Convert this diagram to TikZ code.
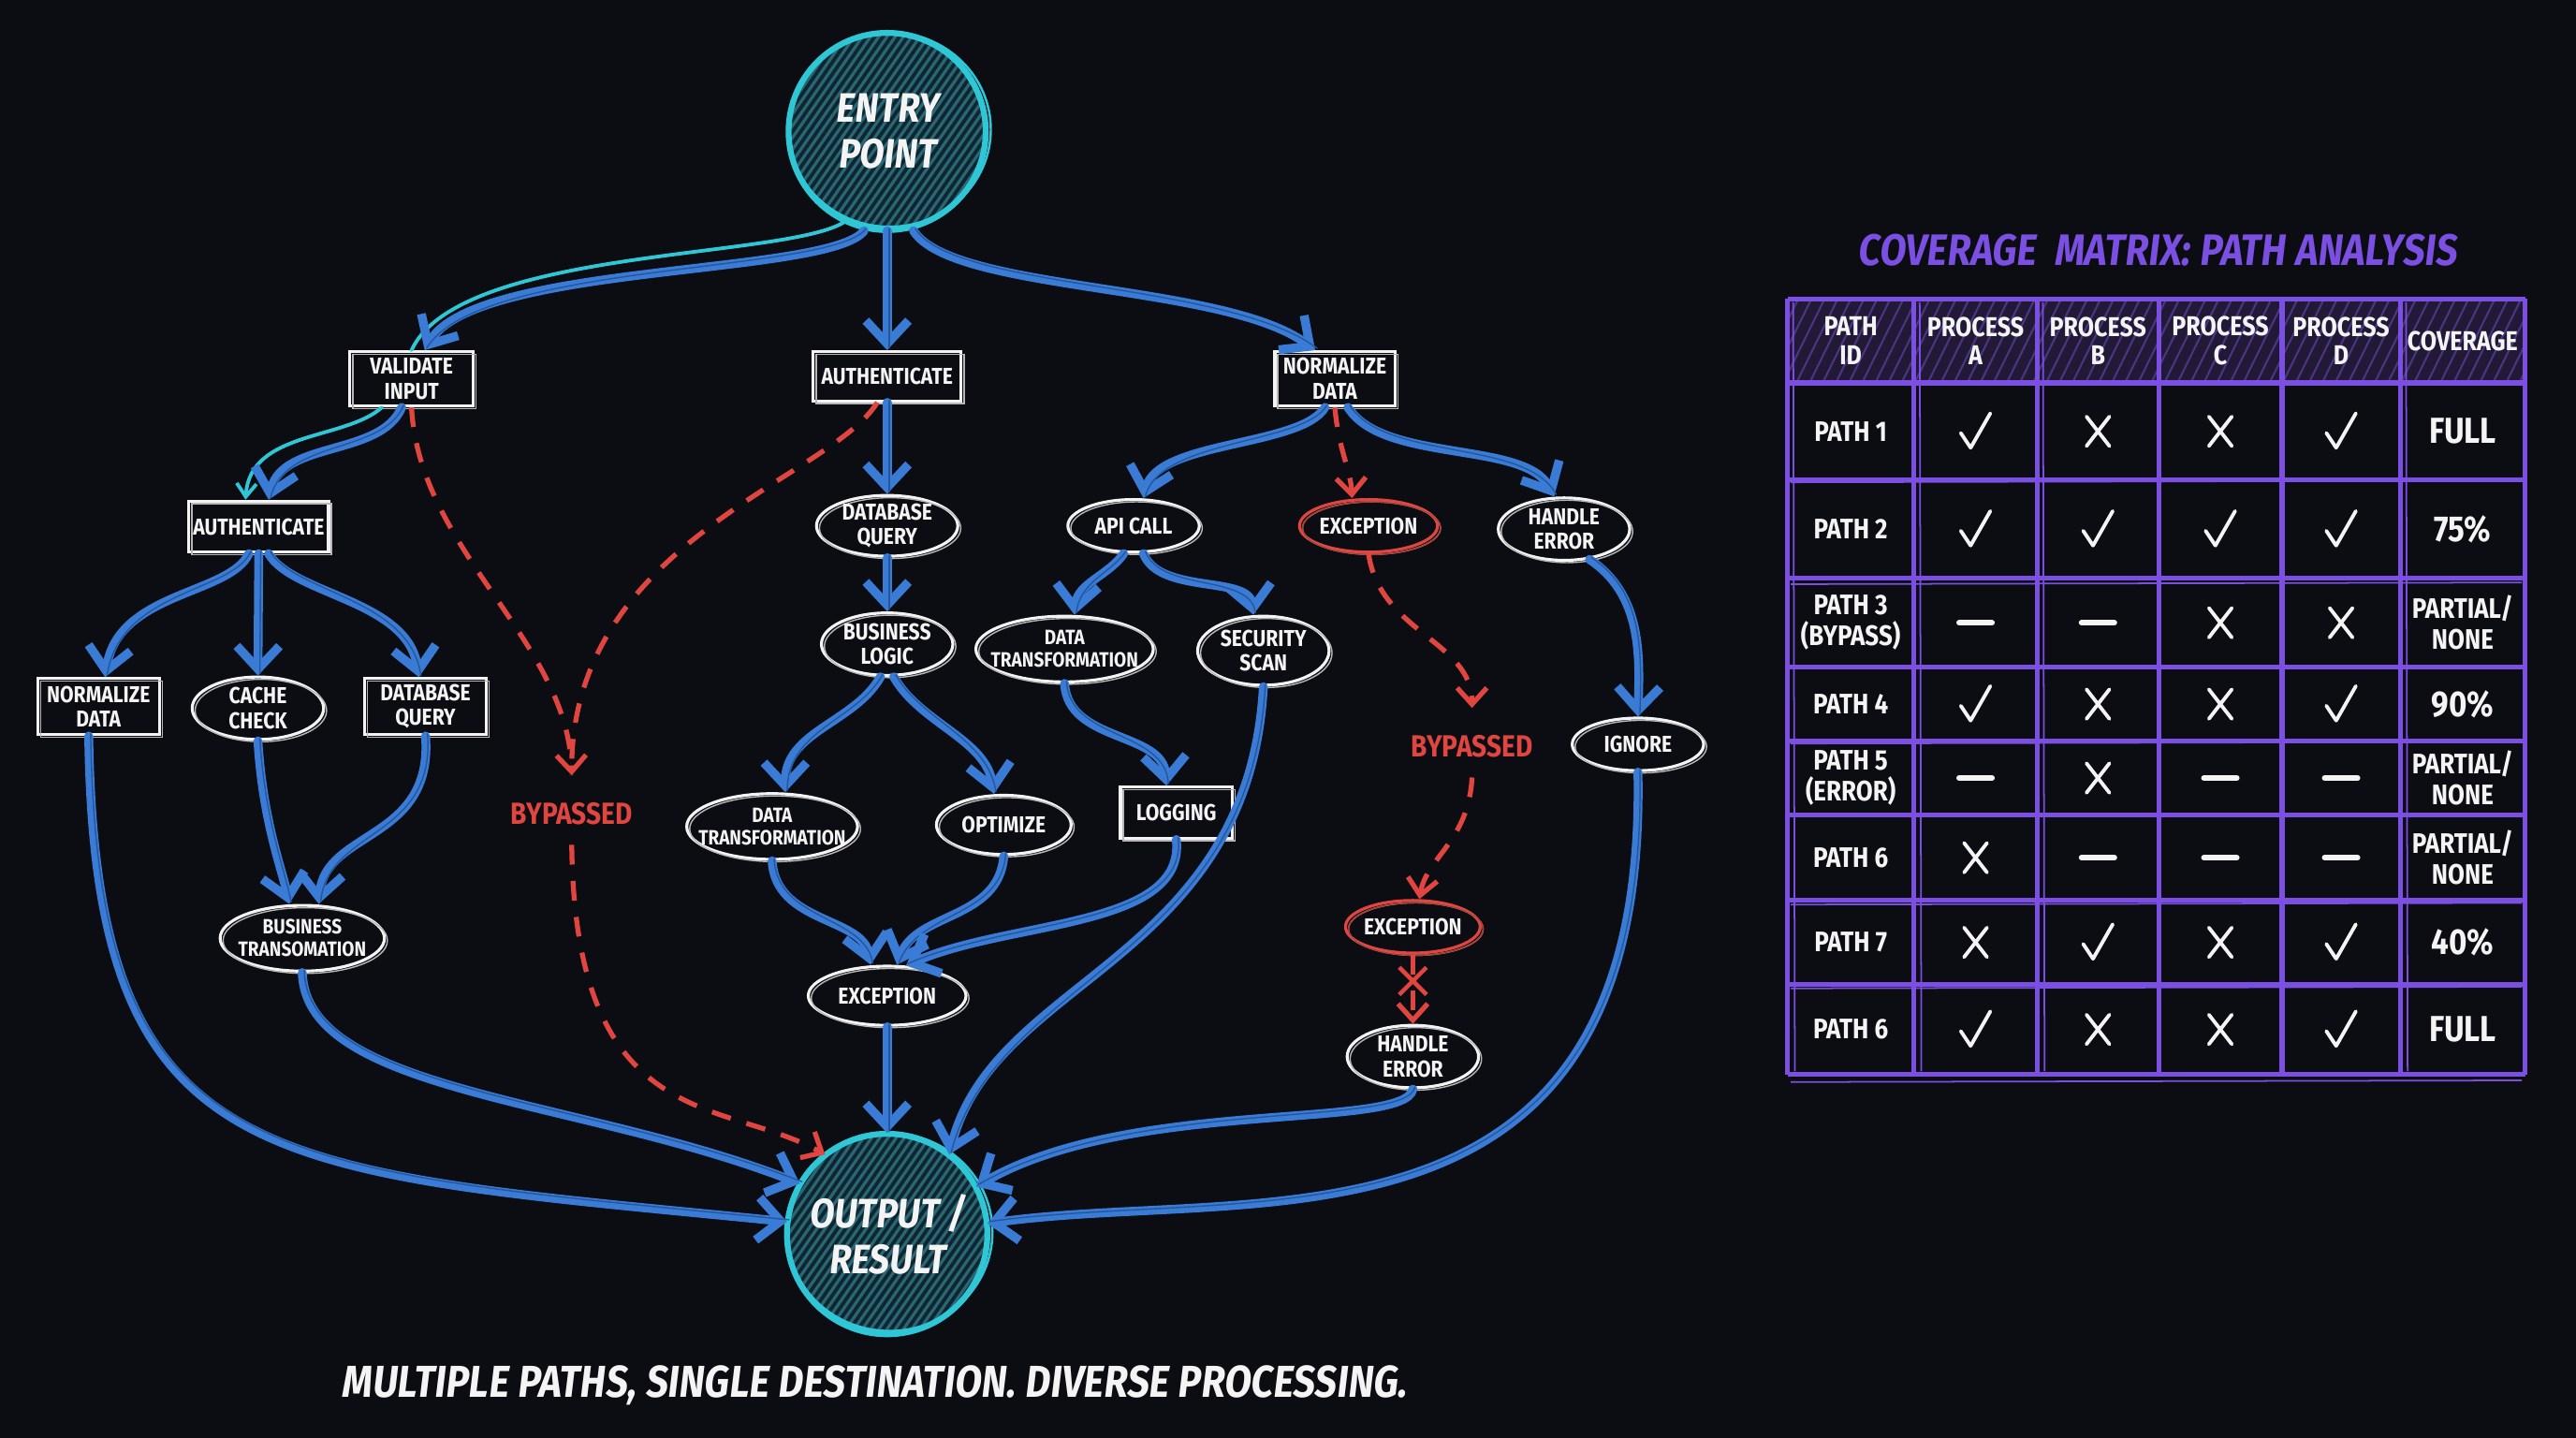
\documentclass[tikz,border=0pt]{standalone}
\usepackage{fontspec}
\newfontfamily\hand[FakeStretch=0.86]{Fira Sans}
\newfontfamily\handi[FakeStretch=0.86,FakeSlant=0.12]{Fira Sans}
\usetikzlibrary{arrows.meta,shapes.geometric,shapes.misc,calc}

\definecolor{bg}{HTML}{0B0D13}
\definecolor{flow}{HTML}{3A7BD5}
\definecolor{flowdk}{HTML}{24569C}
\definecolor{cyanc}{HTML}{2FC6D6}
\definecolor{redc}{HTML}{E0463F}
\definecolor{purp}{HTML}{7A4FE2}
\definecolor{purpdk}{HTML}{211936}
\definecolor{purpst}{HTML}{4A3580}
\definecolor{tealfill}{HTML}{0E2630}
\definecolor{tealline}{HTML}{2A6674}
\definecolor{chalk}{HTML}{F4F4F4}

\newcommand\markc[1]{\draw[tickline] ($(#1)+(-9,1)$) -- ($(#1)+(-3,10)$) -- ($(#1)+(9,-11)$);}
\newcommand\markx[1]{\draw[tickline] ($(#1)+(-7,-9)$) -- ($(#1)+(7,9)$) ($(#1)+(-7,9)$) -- ($(#1)+(7,-9)$);}
\newcommand\markd[1]{\draw[tickline, line width=1.7pt] ($(#1)+(-10,0)$) -- ($(#1)+(10,0)$);}

\tikzset{
  flowarrow/.style={draw=flow, line width=2.7pt, line cap=round,
    -{Straight Barb[length=7pt,width=13pt]},
    postaction={draw=flowdk, line width=0.4pt, arrows=-, transform canvas={shift={(0.6pt,0.6pt)}}}},
  cyanline/.style={draw=cyanc, line width=1.1pt, line cap=round},
  redflow/.style={draw=redc, line width=1.5pt, dash pattern=on 6pt off 5pt,
    -{Straight Barb[length=5pt,width=9pt]}},
  redplain/.style={draw=redc, line width=1.5pt, dash pattern=on 6pt off 5pt},
  nodefont/.style={font=\hand\bfseries\fontsize{7}{7.6}\selectfont},
  boxnode/.style={rectangle, draw=chalk, line width=0.9pt, fill=bg, inner sep=0pt,
    text=chalk, nodefont, align=center,
    postaction={draw=chalk!75!black, line width=0.4pt, transform canvas={shift={(0.9pt,-0.8pt)}}}},
  ellnode/.style={ellipse, draw=chalk, line width=0.9pt, fill=bg, inner sep=0pt,
    postaction={draw=chalk!75!black, line width=0.4pt, transform canvas={shift={(0.9pt,-0.7pt)}}}},
  ellred/.style={ellnode, draw=redc, postaction={draw=redc!80!black, line width=0.4pt, transform canvas={shift={(0.9pt,-0.7pt)}}}},
  lbl/.style={text=chalk, nodefont, align=center, inner sep=0pt},
  lblsmall/.style={lbl, font=\hand\bfseries\fontsize{6.3}{6.9}\selectfont},
  bigtext/.style={text=chalk, font=\handi\bfseries\fontsize{12.5}{14}\selectfont, align=center, inner sep=0pt},
  redlabel/.style={text=redc, font=\hand\bfseries\fontsize{9.3}{10}\selectfont, inner sep=0pt},
  tickline/.style={draw=chalk, line width=1.1pt, line cap=round, line join=round},
  gridline/.style={draw=purp, line width=1.5pt},
  gridthin/.style={draw=purp, line width=0.5pt},
  celltext/.style={text=chalk, font=\hand\bfseries\fontsize{8.6}{9.4}\selectfont, align=center, inner sep=0pt},
  covbig/.style={text=chalk, font=\hand\bfseries\fontsize{11}{12}\selectfont, align=center, inner sep=0pt},
  headtext/.style={text=chalk, font=\hand\bfseries\fontsize{8.3}{8.8}\selectfont, align=center, inner sep=0pt},
}

\begin{document}
\begin{tikzpicture}[x=0.5pt,y=-0.5pt]
\fill[bg] (0,0) rectangle (1568,875);
\useasboundingbox (0,0) rectangle (1568,875);

% ---------- big circles ----------
\node[circle, inner sep=0pt, minimum size=60pt] (entry) at (540,80) {};
\node[circle, inner sep=0pt, minimum size=61pt] (out) at (540,751) {};
\foreach \c/\r in {entry/30pt, out/30.5pt}{
  \fill[tealfill] (\c.center) circle [radius=\r];
  \begin{scope}
    \clip (\c.center) circle [radius=\r];
    \foreach \k in {-110,-105,...,110}
      \draw[tealline, line width=0.9pt] ($(\c.center)+(\k-45,65)$) -- ($(\c.center)+(\k+45,-65)$);
  \end{scope}
  \draw[cyanc, line width=1.8pt] (\c.center) circle [radius=\r];
  \draw[cyanc, line width=0.7pt] ($(\c.center)+(1.5,-1.2)$) circle [x radius=\r+0.8pt, y radius=\r-0.4pt];
}
\node[bigtext] (entry-t) at (entry) {ENTRY\\POINT};
\node[bigtext] (out-t) at (out) {OUTPUT /\\RESULT};

% ---------- rectangle nodes ----------
\node[boxnode, minimum width=37.5pt, minimum height=16.5pt] (vi) at (250.5,230.5) {VALIDATE\\INPUT};
\node[boxnode, minimum width=45pt, minimum height=15pt] (au1) at (540,229) {AUTHENTICATE};
\node[boxnode, minimum width=36.5pt, minimum height=16.5pt] (nd1) at (812.5,230.5) {NORMALIZE\\DATA};
\node[boxnode, minimum width=42.5pt, minimum height=15.5pt] (au2) at (157.5,320.5) {AUTHENTICATE};
\node[boxnode, minimum width=37pt, minimum height=17pt] (nd2) at (60,430) {NORMALIZE\\DATA};
\node[boxnode, minimum width=37pt, minimum height=17pt] (dq2) at (259,430) {DATABASE\\QUERY};
\node[boxnode, minimum width=34pt, minimum height=15.5pt] (lg) at (716,494.5) {LOGGING};

% ---------- ellipse nodes ----------
\node[ellnode, minimum width=43pt, minimum height=18.5pt] (dq1) at (540,320) {};
\node[lbl] (dq1-t) at (dq1) {DATABASE\\QUERY};
\node[ellnode, minimum width=40pt, minimum height=16pt] (api) at (690,320) {};
\node[lbl] (api-t) at (api) {API CALL};
\node[ellred, minimum width=42pt, minimum height=16pt] (ex1) at (833,320) {};
\node[lbl] (ex1-t) at (ex1) {EXCEPTION};
\node[ellnode, minimum width=40pt, minimum height=19pt] (he1) at (952,322) {};
\node[lbl] (he1-t) at (he1) {HANDLE\\ERROR};
\node[ellnode, minimum width=40pt, minimum height=19pt] (cc) at (157,431) {};
\node[lbl] (cc-t) at (cc) {CACHE\\CHECK};
\node[ellnode, minimum width=40pt, minimum height=19pt] (bl) at (540,392) {};
\node[lbl] (bl-t) at (bl) {BUSINESS\\LOGIC};
\node[ellnode, minimum width=54pt, minimum height=20pt] (dt1) at (648,395) {};
\node[lblsmall] (dt1-t) at (dt1) {DATA\\TRANSFORMATION};
\node[ellnode, minimum width=40pt, minimum height=21pt] (ss) at (769,396) {};
\node[lbl] (ss-t) at (ss) {SECURITY\\SCAN};
\node[ellnode, minimum width=40pt, minimum height=16pt] (ig) at (997,453) {};
\node[lbl] (ig-t) at (ig) {IGNORE};
\node[ellnode, minimum width=52pt, minimum height=20pt] (dt2) at (470,503) {};
\node[lblsmall] (dt2-t) at (dt2) {DATA\\TRANSFORMATION};
\node[ellnode, minimum width=41pt, minimum height=18pt] (op) at (611,502) {};
\node[lbl] (op-t) at (op) {OPTIMIZE};
\node[ellnode, minimum width=50pt, minimum height=20pt] (bt) at (184,571) {};
\node[lblsmall] (bt-t) at (bt) {BUSINESS\\TRANSOMATION};
\node[ellnode, minimum width=48pt, minimum height=18pt] (ex2) at (540,606) {};
\node[lbl] (ex2-t) at (ex2) {EXCEPTION};
\node[ellred, minimum width=41pt, minimum height=16pt] (ex3) at (860,564) {};
\node[lbl] (ex3-t) at (ex3) {EXCEPTION};
\node[ellnode, minimum width=40pt, minimum height=19pt] (he2) at (860,643) {};
\node[lbl] (he2-t) at (he2) {HANDLE\\ERROR};

% ---------- red labels ----------
\node[redlabel] (bp1) at (348,495) {BYPASSED};
\node[redlabel] (bp2) at (896,454) {BYPASSED};
\node[cross out, draw=redc, line width=1.3pt, minimum size=7pt, inner sep=0pt] (xm) at (860,597) {};

% ---------- connectors: from entry ----------
\draw[cyanline] (entry.-115) .. controls (480,158) and (280,150) .. (vi.north);
\draw[flowarrow] ([xshift=-7pt]entry.south) .. controls (505,168) and (290,160) .. ([xshift=4pt]vi.north);
\draw[flowarrow] (entry.south) -- (au1.north);
\draw[flowarrow] ([xshift=8pt]entry.south) .. controls (580,178) and (745,172) .. ([xshift=-6pt]nd1.north);

% validate input
\draw[cyanline, -{Straight Barb[length=4pt,width=6pt]}] ([xshift=-9pt]vi.south) .. controls (210,268) and (152,262) .. ([xshift=-4pt]au2.north);
\draw[flowarrow] ([xshift=-3pt]vi.south) .. controls (232,278) and (172,268) .. ([xshift=3pt]au2.north);
\draw[redflow] (vi.south) .. controls (255,335) and (346,390) .. ([yshift=8pt]bp1.north);
\draw[redplain] ([xshift=-3pt]au1.south) .. controls (505,292) and (345,330) .. ([yshift=8pt]bp1.north);
\draw[redflow] ([yshift=-6pt]bp1.south) .. controls (350,690) and (440,668) .. (out.128);

% center column
\draw[flowarrow] (au1.south) -- (dq1.north);
\draw[flowarrow] (dq1.south) -- (bl.north);
\draw[flowarrow] ([xshift=-2pt]bl.south) .. controls (520,440) and (478,445) .. ([xshift=4pt]dt2.north);
\draw[flowarrow] ([xshift=2pt]bl.south) .. controls (560,440) and (600,450) .. ([xshift=-3pt]op.north);
\draw[flowarrow] (dt2.south) .. controls (472,562) and (525,558) .. ([xshift=-5pt]ex2.north);
\draw[flowarrow] (op.south) .. controls (608,560) and (558,555) .. ([xshift=3pt]ex2.north);
\draw[flowarrow] (lg.south) .. controls (722,565) and (615,560) .. (ex2.58);
\draw[flowarrow] (ex2.south) -- (out.north);

% left authenticate branch
\draw[flowarrow] ([xshift=-3pt]au2.south) .. controls (140,362) and (72,360) .. ([xshift=2pt]nd2.north);
\draw[flowarrow] (au2.south) -- (cc.north);
\draw[flowarrow] ([xshift=3pt]au2.south) .. controls (178,362) and (248,365) .. ([xshift=-2pt]dq2.north);
\draw[flowarrow] (cc.south) .. controls (160,500) and (172,530) .. ([xshift=-4pt]bt.north);
\draw[flowarrow] (dq2.south) .. controls (264,512) and (198,505) .. ([xshift=5pt]bt.north);
\draw[flowarrow] ([xshift=-3pt]nd2.south) .. controls (58,715) and (160,712) .. (out.173);
\draw[flowarrow] (bt.south) .. controls (186,665) and (352,668) .. (out.150);

% right branch
\draw[flowarrow] ([xshift=-3pt]nd1.south) .. controls (792,272) and (705,268) .. ([xshift=3pt]api.north);
\draw[redflow] (nd1.south) .. controls (815,275) and (822,285) .. ([xshift=-5pt]ex1.north);
\draw[flowarrow] ([xshift=4pt]nd1.south) .. controls (842,282) and (928,268) .. ([xshift=-3pt]he1.north);
\draw[flowarrow] ([xshift=-3pt]api.south) .. controls (675,350) and (656,355) .. ([xshift=3pt]dt1.north);
\draw[flowarrow] ([xshift=3pt]api.south) .. controls (706,362) and (760,350) .. ([xshift=-3pt]ss.north);
\draw[flowarrow] (dt1.south) .. controls (650,452) and (708,445) .. ([xshift=-3pt]lg.north);
\draw[flowarrow] (ss.south) .. controls (760,585) and (605,595) .. (out.52);
\draw[redflow] (ex1.south) .. controls (840,385) and (896,390) .. ([yshift=8pt]bp2.north);
\draw[redflow] ([yshift=-6pt]bp2.south) .. controls (894,512) and (868,522) .. ([xshift=2pt]ex3.north);
\draw[redflow] (ex3.south) -- (he2.north);
\draw[flowarrow] (he2.south) .. controls (855,688) and (688,668) .. (out.28);
\draw[flowarrow] (he1.-50) .. controls (1000,362) and (998,400) .. (ig.north);
\draw[flowarrow] (ig.south) .. controls (1003,775) and (765,722) .. (out.6);

% ---------- caption ----------
\node[text=chalk, font=\handi\bfseries\fontsize{13.6}{15}\selectfont, inner sep=0pt] (cap) at (532,843)
  {MULTIPLE PATHS, SINGLE DESTINATION. DIVERSE PROCESSING.};

% ---------- coverage matrix ----------
\node[text=purp, font=\handi\bfseries\fontsize{13.4}{15}\selectfont, inner sep=0pt] (ttl) at (1313,152)
  {COVERAGE\ \ MATRIX: PATH ANALYSIS};

\fill[purpdk] (1088,182) rectangle (1537,233);
\begin{scope}
  \clip (1088,182) rectangle (1537,233);
  \foreach \k in {1050,1058,...,1560}
    \draw[purpst, line width=0.6pt] (\k,240) -- (\k+32,175);
\end{scope}

\foreach \yy in {182,233,292,352,406,451,496,548,599,654}
  \draw[gridline] (1088,\yy) -- (1537,\yy);
\foreach \xx in {1088,1165,1240,1314,1389,1461,1537}
  \draw[gridline] (\xx,182) -- (\xx,654);
\foreach \yy in {180,291,353,450,548,599,656}
  \draw[gridthin] (1090,\yy+2.5) -- (1535,\yy+1.5);
\foreach \xx in {1090,1167,1242,1312,1387,1463,1535}
  \draw[gridthin] (\xx+1.5,184) -- (\xx+2.5,652);

% header
\node[headtext] (h1) at (1126.5,207.5) {PATH\\ID};
\node[headtext] (h2) at (1202.5,207.5) {PROCESS\\A};
\node[headtext] (h3) at (1277,207.5) {PROCESS\\B};
\node[headtext] (h4) at (1351.5,207.5) {PROCESS\\C};
\node[headtext] (h5) at (1425,207.5) {PROCESS\\D};
\node[headtext] (h6) at (1499,207.5) {COVERAGE};

% row labels
\node[celltext] (p1) at (1126.5,262.5) {PATH 1};
\node[celltext] (p2) at (1126.5,322) {PATH 2};
\node[celltext] (p3) at (1126.5,379) {PATH 3\\(BYPASS)};
\node[celltext] (p4) at (1126.5,428.5) {PATH 4};
\node[celltext] (p5) at (1126.5,473.5) {PATH 5\\(ERROR)};
\node[celltext] (p6) at (1126.5,522) {PATH 6};
\node[celltext] (p7) at (1126.5,573.5) {PATH 7};
\node[celltext] (p8) at (1126.5,626.5) {PATH 6};

% coverage
\node[covbig] (v1) at (1499,262.5) {FULL};
\node[covbig] (v2) at (1499,322) {75\%};
\node[celltext] (v3) at (1499,379) {PARTIAL/\\NONE};
\node[covbig] (v4) at (1499,428.5) {90\%};
\node[celltext] (v5) at (1499,473.5) {PARTIAL/\\NONE};
\node[celltext] (v6) at (1499,522) {PARTIAL/\\NONE};
\node[covbig] (v7) at (1499,573.5) {40\%};
\node[covbig] (v8) at (1499,626.5) {FULL};

% marks
\foreach \r/\y/\a/\b/\c/\d in {1/262.5/c/x/x/c, 2/322/c/c/c/c, 3/379/d/d/x/x, 4/428.5/c/x/x/c,
    5/473.5/d/x/d/d, 6/522/x/d/d/d, 7/573.5/x/c/x/c, 8/626.5/c/x/x/c}{
  \foreach \m/\x [count=\j] in {\a/1202.5, \b/1277, \c/1351.5, \d/1425}{
    \coordinate (m\r-\j) at (\x,\y);
    \csname mark\m\endcsname{m\r-\j}
  }
}
\end{tikzpicture}
\end{document}
